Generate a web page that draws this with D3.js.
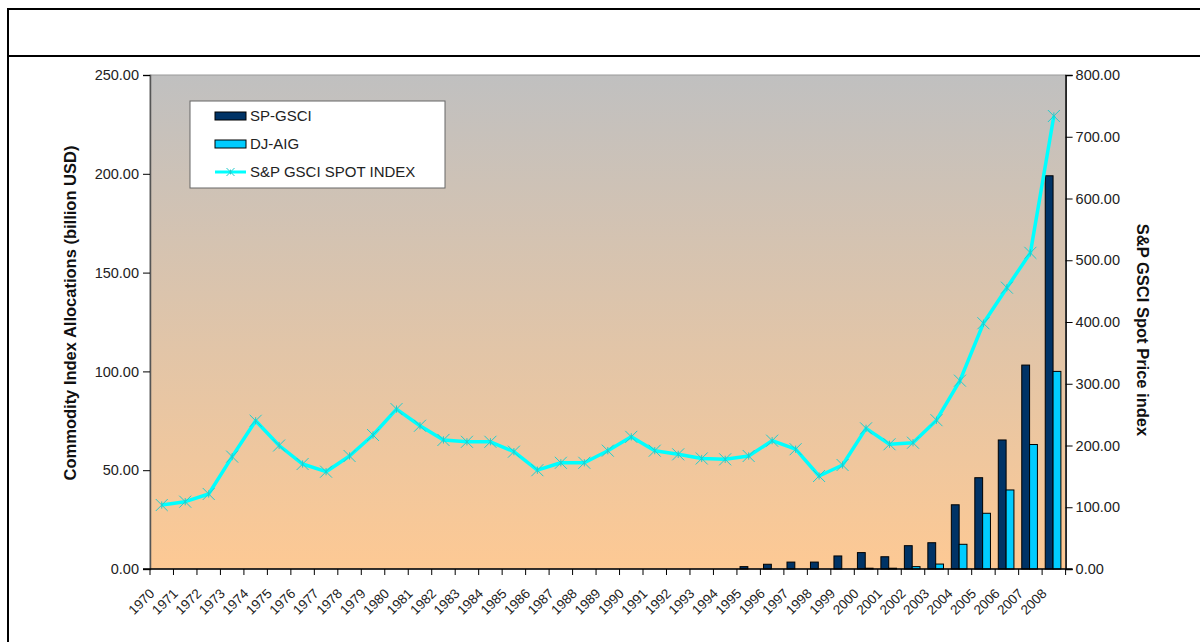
<!DOCTYPE html>
<html>
<head>
<meta charset="utf-8">
<script src="https://cdn.jsdelivr.net/npm/d3@7"></script>
<style>
  body { margin: 0; background: #fff; }
  svg { display: block; font-family: "Liberation Sans", Arial, sans-serif; }
</style>
</head>
<body>
<div class="chart"></div>
<script>
// categories
const years = ['1970','1971','1972','1973','1974','1975','1976','1977','1978','1979',
  '1980','1981','1982','1983','1984','1985','1986','1987','1988','1989',
  '1990','1991','1992','1993','1994','1995','1996','1997','1998','1999',
  '2000','2001','2002','2003','2004','2005','2006','2007','2008'];

// billion USD (left axis)
const spGsci = [0,0,0,0,0,0,0,0,0,0, 0,0,0,0,0,0,0,0,0,0, 0,0,0,0,0,1.2,2.4,3.5,3.5,6.6,
  8.3,6.2,11.8,13.3,32.5,46.2,65.3,103.2,199];
const djAig = [0,0,0,0,0,0,0,0,0,0, 0,0,0,0,0,0,0,0,0,0, 0,0,0,0,0,0,0,0,0,0,
  0.4,0.4,1.2,2.5,12.5,28.2,40,63,100];

// spot price index (right axis)
const spotIndex = [103.6,109,121.5,182,240,200,170,157.6,183,217,259,232,209,206,206,
  190,160,172,172,191.6,214,191.6,185.7,179,177.6,183,207.8,194,150.6,168.4,
  227.8,202,204.5,241,305,398,455.6,512,733.6];

const leftTicks = [0,50,100,150,200,250];
const rightTicks = [0,100,200,300,400,500,600,700,800];
const legendItems = ['SP-GSCI','DJ-AIG','S&P GSCI SPOT INDEX'];

const width = 1200, height = 642;
const plot = {left: 150, right: 1065.6, top: 75, bottom: 569};

const svg = d3.select('.chart').append('svg')
  .attr('width', width)
  .attr('height', height);

// outer frame + title bar
svg.append('rect')
  .attr('x', 8).attr('y', 9)
  .attr('width', 1210).attr('height', 660)
  .attr('fill', 'none').attr('stroke', '#000').attr('stroke-width', 2);
svg.append('line')
  .attr('x1', 8).attr('x2', 1200).attr('y1', 56).attr('y2', 56)
  .attr('stroke', '#000').attr('stroke-width', 2);

const grad = svg.append('defs').append('linearGradient')
  .attr('id', 'bg').attr('x1', 0).attr('y1', 0).attr('x2', 0).attr('y2', 1);
grad.append('stop').attr('offset', '0%').attr('stop-color', '#c0c0c0');
grad.append('stop').attr('offset', '100%').attr('stop-color', '#fdc994');

svg.append('rect')
  .attr('x', plot.left).attr('y', plot.top)
  .attr('width', plot.right - plot.left).attr('height', plot.bottom - plot.top)
  .attr('fill', 'url(#bg)')
  .attr('stroke', '#999').attr('stroke-width', 1);

const x = d3.scaleBand().domain(years).range([plot.left, plot.right]).padding(0);
const xInner = d3.scaleBand().domain(['sp','dj'])
  .range([0, x.bandwidth()]).paddingOuter(0.5).paddingInner(0);
const yL = d3.scaleLinear().domain([0,250]).range([plot.bottom, plot.top]);
const yR = d3.scaleLinear().domain([0,800]).range([plot.bottom, plot.top]);

// bars
const barData = [];
years.forEach((yr,i) => {
  barData.push({year: yr, key: 'sp', v: spGsci[i]});
  barData.push({year: yr, key: 'dj', v: djAig[i]});
});
svg.append('g').selectAll('rect')
  .data(barData.filter(d => d.v > 0))
  .enter()
  .append('rect')
  .attr('x', d => x(d.year) + xInner(d.key) - 0.8)
  .attr('y', d => yL(d.v))
  .attr('width', xInner.bandwidth())
  .attr('height', d => yL(0) - yL(d.v))
  .attr('fill', d => d.key == 'sp' ? '#003366' : '#00ccff')
  .attr('stroke', '#000')
  .attr('stroke-width', 1);

// line
const cx = i => x(years[i]) + x.bandwidth() / 2;
const line = d3.line().x((d,i) => cx(i)).y(d => yR(d));
svg.append('path')
  .datum(spotIndex)
  .attr('d', line)
  .attr('fill', 'none')
  .attr('stroke', '#00ffff')
  .attr('stroke-width', 3.5)
  .attr('stroke-linejoin', 'round');

function star(g, px, py, s) {
  g.append('path')
    .attr('d', `M${px-s},${py-s}L${px+s},${py+s}M${px-s},${py+s}L${px+s},${py-s}M${px},${py-s*0.6}L${px},${py+s*0.6}`)
    .attr('stroke', '#22cccc')
    .attr('stroke-width', 1)
    .attr('fill', 'none');
}
const markers = svg.append('g');
spotIndex.forEach((v,i) => star(markers, cx(i), yR(v), 6));

// left axis
const axisL = svg.append('g')
  .attr('transform', `translate(${plot.left},0)`)
  .call(d3.axisLeft(yL).tickValues(leftTicks).tickFormat(d3.format('.2f')).tickSize(7).tickPadding(4));
axisL.select('.domain').attr('stroke', '#555').attr('stroke-width', 1.5);

// right axis
const axisR = svg.append('g')
  .attr('transform', `translate(${plot.right},0)`)
  .call(d3.axisRight(yR).tickValues(rightTicks).tickFormat(d3.format('.2f')).tickSize(7).tickPadding(3));
axisR.select('.domain').attr('stroke', '#000').attr('stroke-width', 1.5);

[axisL, axisR].forEach(a => {
  a.selectAll('text').attr('font-size', 14.5).attr('fill', '#222')
    .attr('font-family', '"Liberation Sans", Arial, sans-serif');
  a.selectAll('.tick line').attr('stroke', '#000');
});

// bottom axis
const axisB = svg.append('g')
  .attr('transform', `translate(0,${plot.bottom})`)
  .call(d3.axisBottom(x).tickSize(0).tickFormat(''));
axisB.select('.domain').attr('d', `M${plot.left - 7},0H${plot.right + 7}`)
  .attr('stroke', '#000').attr('stroke-width', 1.5);
axisB.selectAll('.boundary')
  .data(years.concat(['end']))
  .enter()
  .append('line')
  .attr('x1', (d,i) => plot.left + i * x.bandwidth())
  .attr('x2', (d,i) => plot.left + i * x.bandwidth())
  .attr('y1', 0).attr('y2', 6)
  .attr('stroke', '#000');
axisB.selectAll('.yr')
  .data(years)
  .enter()
  .append('text')
  .attr('transform', d => `translate(${x(d) + 2},${22}) rotate(-45)`)
  .attr('text-anchor', 'end')
  .attr('dy', '0.35em')
  .attr('font-size', 13.5)
  .attr('fill', '#222')
  .text(d => d);

// axis titles
svg.append('text')
  .attr('transform', 'translate(76,313) rotate(-90)')
  .attr('text-anchor', 'middle')
  .attr('font-size', 16.5)
  .attr('font-weight', 'bold')
  .attr('fill', '#111')
  .text('Commodity  Index Allocations (billion USD)');
svg.append('text')
  .attr('transform', 'translate(1137,330) rotate(90)')
  .attr('text-anchor', 'middle')
  .attr('font-size', 16.5)
  .attr('font-weight', 'bold')
  .attr('fill', '#111')
  .text('S&P GSCI Spot Price index');

// legend
const lg = svg.append('g').attr('transform', 'translate(190,101)');
lg.append('rect').attr('width', 255).attr('height', 87)
  .attr('fill', '#fff').attr('stroke', '#666').attr('stroke-width', 1);
legendItems.forEach((name,i) => {
  const ly = 15 + i * 28;
  if (i < 2) {
    lg.append('rect')
      .attr('x', 25).attr('y', ly - 4)
      .attr('width', 31).attr('height', 8)
      .attr('fill', i == 0 ? '#003366' : '#00ccff')
      .attr('stroke', '#000');
  } else {
    lg.append('line').attr('x1', 25).attr('x2', 56).attr('y1', ly).attr('y2', ly)
      .attr('stroke', '#00ffff').attr('stroke-width', 3);
    star(lg, 40.5, ly, 4);
  }
  lg.append('text')
    .attr('x', 60).attr('y', ly)
    .attr('dy', '0.35em')
    .attr('font-size', 15)
    .attr('fill', '#222')
    .text(name);
});
</script>
</body>
</html>
